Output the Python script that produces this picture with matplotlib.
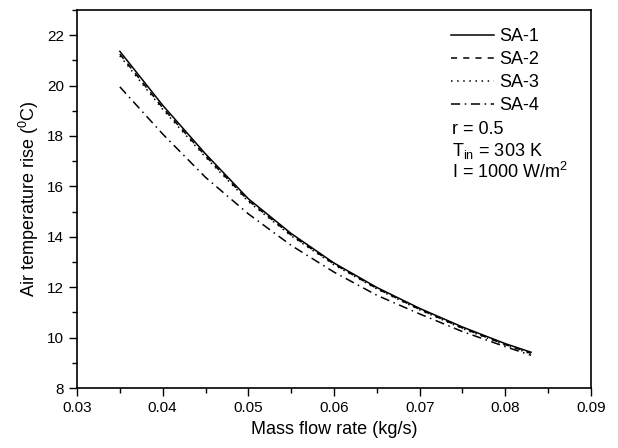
import matplotlib
matplotlib.use("Agg")
import matplotlib.pyplot as plt
from matplotlib.ticker import MultipleLocator

plt.rcParams['font.family'] = ['Liberation Sans', 'DejaVu Sans']
plt.rcParams['mathtext.fontset'] = 'custom'
plt.rcParams['mathtext.rm'] = 'Liberation Sans'
plt.rcParams['mathtext.it'] = 'Liberation Sans'

# mass flow rate (kg/s)
m = [0.035, 0.040, 0.045, 0.050, 0.055, 0.060, 0.065, 0.070, 0.075, 0.080, 0.083]

# air temperature rise (deg C)
sa1 = [21.36, 19.22, 17.29, 15.51, 14.13, 12.96, 11.99, 11.16, 10.42, 9.76, 9.42]
sa2 = [21.25, 19.12, 17.21, 15.44, 14.07, 12.92, 11.95, 11.12, 10.38, 9.72, 9.38]
sa3 = [21.18, 19.06, 17.16, 15.40, 14.04, 12.89, 11.93, 11.10, 10.36, 9.70, 9.36]
sa4 = [19.95, 18.08, 16.36, 14.91, 13.66, 12.60, 11.68, 10.94, 10.24, 9.64, 9.30]

labels = ['SA-1', 'SA-2', 'SA-3', 'SA-4']

fig = plt.figure(figsize=(6.18, 4.48), dpi=100)
ax = fig.add_axes([0.1246, 0.1339, 0.8317, 0.8438])

ax.plot(m, sa1, color='black', lw=1.1, ls='-', label=labels[0])
ax.plot(m, sa2, color='black', lw=1.1, ls=(0, (4, 4)), label=labels[1])
ax.plot(m, sa3, color='black', lw=1.1, ls=(0, (1, 3)), label=labels[2])
ax.plot(m, sa4, color='black', lw=1.1, ls=(0, (6, 3, 1, 3)), label=labels[3])

ax.set_xlim(0.03, 0.09)
ax.set_ylim(8, 23)
ax.xaxis.set_minor_locator(MultipleLocator(0.005))
ax.yaxis.set_major_locator(MultipleLocator(2))
ax.yaxis.set_minor_locator(MultipleLocator(1))
ax.set_xticks([0.03, 0.04, 0.05, 0.06, 0.07, 0.08, 0.09])
ax.set_xticklabels(['0.03', '0.04', '0.05', '0.06', '0.07', '0.08', '0.09'])
ax.tick_params(which='major', direction='out', length=6, width=1, labelsize=11)
ax.tick_params(which='minor', direction='out', length=3.5, width=1)
for s in ax.spines.values():
    s.set_linewidth(1.2)

ax.set_xlabel('Mass flow rate (kg/s)', fontsize=13)
ax.set_ylabel('Air temperature rise ($^0$C)', fontsize=13)

ax.legend(loc='upper left', bbox_to_anchor=(0.727, 0.952), frameon=False,
          fontsize=13, handlelength=2.4, handletextpad=0.3, labelspacing=0.33,
          borderpad=0, borderaxespad=0)

ax.text(0.73, 0.685, 'r = 0.5', transform=ax.transAxes, fontsize=13, va='center')
ax.text(0.73, 0.627, 'T$_{\\mathregular{in}}$ = 303 K', transform=ax.transAxes,
        fontsize=13, va='center')
ax.text(0.73, 0.572, 'I = 1000 W/m$^2$', transform=ax.transAxes, fontsize=13, va='center')

fig.savefig('out.png', dpi=100)
